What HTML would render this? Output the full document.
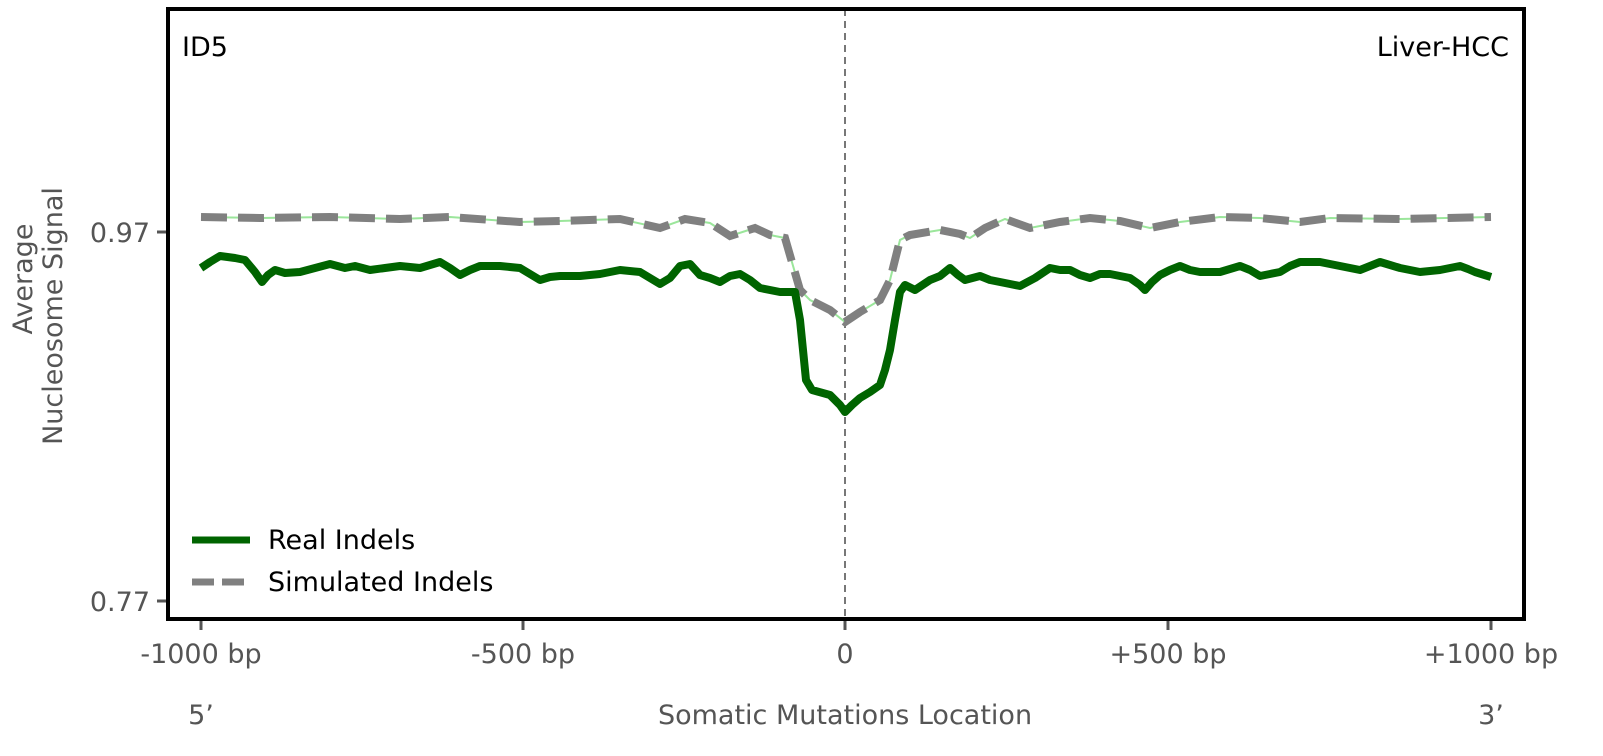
<!DOCTYPE html>
<html><head><meta charset="utf-8"><style>
html,body{margin:0;padding:0;background:#fff;}
svg{display:block;font-family:"DejaVu Sans","Liberation Sans",sans-serif;}
</style></head><body>
<svg width="1603" height="756" viewBox="0 0 1603 756" xmlns="http://www.w3.org/2000/svg">
<rect x="0" y="0" width="1603" height="756" fill="#fff"/>
<line x1="845" y1="9" x2="845" y2="618" stroke="#777" stroke-width="2" stroke-dasharray="7,5"/>
<polyline fill="none" stroke="#9be69b" stroke-width="2" points="201,217 260,218 330,217 400,219 450,217 520,222 560,221 620,219 660,228 685,219 710,223 730,236 755,228 770,235 785,238 800,290 810,300 830,310 845,322 860,312 880,300 890,280 900,240 910,235 940,230 960,234 970,238 985,228 1005,219 1030,228 1060,222 1090,218 1120,221 1150,228 1180,222 1220,217 1260,218 1300,222 1330,218 1400,219 1491,217"/>
<polyline fill="none" stroke="#808080" stroke-width="8" stroke-dasharray="26,11" points="201,217 260,218 330,217 400,219 450,217 520,222 560,221 620,219 660,228 685,219 710,223 730,236 755,228 770,235 785,238 800,290 810,300 830,310 845,322 860,312 880,300 890,280 900,240 910,235 940,230 960,234 970,238 985,228 1005,219 1030,228 1060,222 1090,218 1120,221 1150,228 1180,222 1220,217 1260,218 1300,222 1330,218 1400,219 1491,217"/>
<polyline fill="none" stroke="#006400" stroke-width="8" stroke-linejoin="round" points="201,268 210,262 220,256 235,258 245,260 255,272 262,282 268,275 275,270 285,273 300,272 315,268 330,264 345,268 355,266 370,270 385,268 400,266 420,268 440,262 450,268 460,275 470,270 480,266 500,266 520,268 530,274 540,280 550,277 560,276 580,276 600,274 620,270 640,272 650,278 660,284 670,278 680,266 690,264 700,275 710,278 720,282 730,276 740,274 750,280 760,288 780,292 795,292 800,320 806,380 812,390 830,395 840,405 845,412 852,405 860,398 870,392 880,385 885,370 890,350 895,320 900,292 905,285 915,290 930,280 940,276 950,268 958,275 965,280 980,276 990,280 1000,282 1010,284 1020,286 1035,278 1050,268 1060,270 1070,270 1080,275 1090,278 1100,274 1110,274 1120,276 1130,278 1140,285 1145,290 1152,282 1160,275 1170,270 1180,266 1190,270 1200,272 1220,272 1240,266 1250,270 1260,276 1270,274 1280,272 1290,266 1300,262 1320,262 1340,266 1350,268 1360,270 1370,266 1380,262 1390,265 1400,268 1410,270 1420,272 1430,271 1440,270 1450,268 1460,266 1468,269 1475,272 1491,277"/>
<rect x="168" y="9" width="1356" height="610" fill="none" stroke="#000" stroke-width="4"/>
<g stroke="#555" stroke-width="3">
<line x1="157" y1="232" x2="166" y2="232"/><line x1="157" y1="601" x2="166" y2="601"/>
<line x1="201" y1="621" x2="201" y2="630"/><line x1="523" y1="621" x2="523" y2="630"/><line x1="845" y1="621" x2="845" y2="630"/><line x1="1168" y1="621" x2="1168" y2="630"/><line x1="1491" y1="621" x2="1491" y2="630"/>
</g>
<g fill="#555" font-size="27">
<text x="150" y="242" text-anchor="end">0.97</text>
<text x="150" y="611" text-anchor="end">0.77</text>
<text x="201" y="663" text-anchor="middle">-1000 bp</text>
<text x="523" y="663" text-anchor="middle">-500 bp</text>
<text x="845" y="663" text-anchor="middle">0</text>
<text x="1168" y="663" text-anchor="middle">+500 bp</text>
<text x="1491" y="663" text-anchor="middle">+1000 bp</text>
<text x="201" y="724" text-anchor="middle">5’</text>
<text x="845" y="724" text-anchor="middle">Somatic Mutations Location</text>
<text x="1491" y="724" text-anchor="middle">3’</text>
<text transform="translate(32,279) rotate(-90)" text-anchor="middle">Average</text>
<text transform="translate(62,316) rotate(-90)" text-anchor="middle">Nucleosome Signal</text>
</g>
<g fill="#000" font-size="27">
<text x="182" y="56">ID5</text>
<text x="1509" y="56" text-anchor="end">Liver-HCC</text>
<text x="268" y="549">Real Indels</text>
<text x="268" y="591">Simulated Indels</text>
</g>
<line x1="192" y1="540" x2="250" y2="540" stroke="#006400" stroke-width="7"/>
<line x1="192" y1="582" x2="250" y2="582" stroke="#808080" stroke-width="7" stroke-dasharray="22,8"/>
</svg>
</body></html>
